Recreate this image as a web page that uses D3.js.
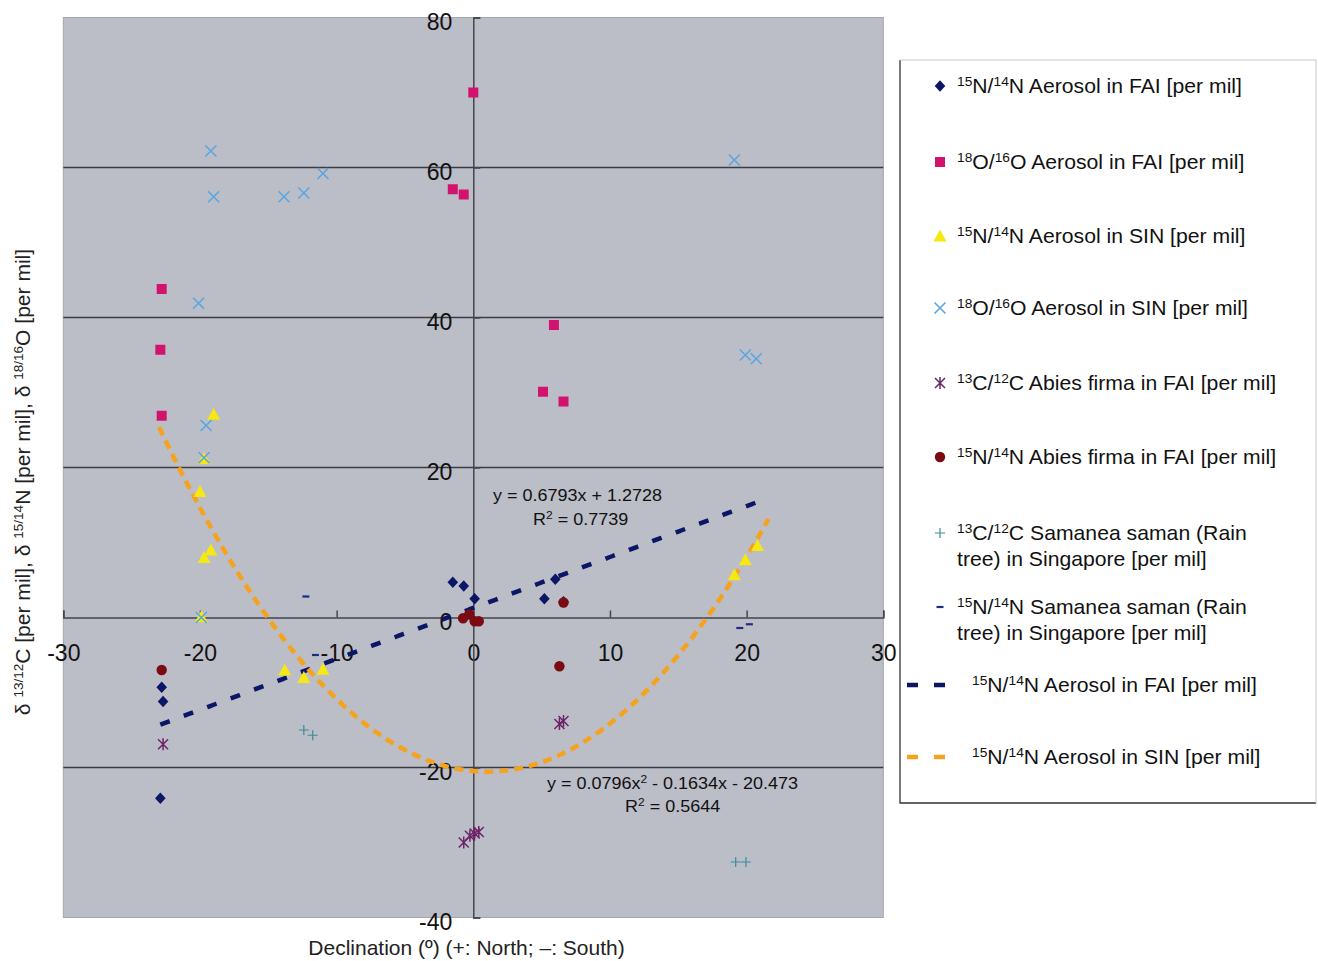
<!DOCTYPE html>
<html>
<head>
<meta charset="utf-8">
<script src="https://cdn.jsdelivr.net/npm/d3@7"></script>
<style>
  body { margin: 0; background: #fff; }
  svg { display: block; font-family: "Liberation Sans", Arial, Helvetica, sans-serif; }
  text { white-space: pre; }
</style>
</head>
<body>
<svg id="chart" width="1318" height="961"></svg>
<script>
// values: [declination, delta]
var aerosolN_FAI = [[-22.8, -9.3], [-22.7, -11.2], [-22.9, -24.1], [-1.5, 4.7], [-0.7, 4.2],
                    [0.1, 2.5], [5.2, 2.5], [6.0, 5.1], [6.6, 2.1]];
var aerosolO_FAI = [[-22.8, 43.8], [-22.9, 35.7], [-22.8, 26.9], [0.0, 70.0], [-1.5, 57.1],
                    [-0.7, 56.4], [5.9, 39.0], [5.1, 30.1], [6.6, 28.8]];
var aerosolN_SIN = [[-19.0, 27.1], [-19.7, 21.2], [-20.0, 16.8], [-19.2, 9.0], [-19.7, 8.0],
                    [-19.9, 0.1], [-13.8, -7.0], [-12.4, -8.0], [-11.0, -6.9], [19.1, 5.7],
                    [19.9, 7.7], [20.8, 9.6]];
var aerosolO_SIN = [[-19.2, 62.2], [-19.0, 56.1], [-13.85, 56.1], [-12.4, 56.6], [-11.0, 59.2],
                    [-20.1, 41.9], [-19.55, 25.6], [-19.7, 21.3], [-19.9, 0.0], [19.1, 61.0],
                    [19.9, 35.0], [20.7, 34.5]];
var abiesC_FAI = [[-22.7, -16.9], [6.3, -14.2], [6.6, -13.8], [-0.7, -30.0], [-0.25, -29.1],
                  [0.1, -28.8], [0.4, -28.6]];
var abiesN_FAI = [[-22.8, -7.0], [-0.75, -0.1], [-0.3, 0.4], [0.1, -0.5], [0.4, -0.5],
                  [6.6, 2.0], [6.3, -6.5]];
var samaneaC_SIN = [[-12.4, -15.0], [-11.75, -15.7], [19.2, -32.6], [19.95, -32.6]];
var samaneaN_SIN = [[-12.25, 2.8], [-11.55, -5.0], [19.5, -1.4], [20.2, -0.9]];

// fitted trendlines as printed on the chart
var linearFit = [0.6793, 1.2728];            // slope, intercept
var linearSpan = [-22.9, 20.7];
var quadFit = [0.0796, -0.1634, -20.473];     // a, b, c
var quadSpan = [-23.0, 21.6];

var xTicks = [-30, -20, -10, 0, 10, 20, 30];
var yTicks = [-40, -20, 0, 20, 40, 60, 80];
var gridValues = [-20, 20, 40, 60];

var seriesNames = [
    "{15}N/{14}N Aerosol in FAI [per mil]",
    "{18}O/{16}O Aerosol in FAI [per mil]",
    "{15}N/{14}N Aerosol in SIN [per mil]",
    "{18}O/{16}O Aerosol in SIN [per mil]",
    "{13}C/{12}C Abies firma in FAI [per mil]",
    "{15}N/{14}N Abies firma in FAI [per mil]",
    "{13}C/{12}C Samanea saman (Rain|tree) in Singapore [per mil]",
    "{15}N/{14}N Samanea saman (Rain|tree) in Singapore [per mil]"
];
var trendNames = [
    "{15}N/{14}N Aerosol in FAI [per mil]",
    "{15}N/{14}N Aerosol in SIN [per mil]"
];

var svg = d3.select("#chart");

var x = d3.scaleLinear().domain([-30, 30]).range([63.3, 883.3]);
var y = d3.scaleLinear().domain([-40, 80]).range([917.5, 17.5]);

// marker shapes, centred on 0,0
var markers = {
    diamond: function(g, c) {
        g.append("path").attr("d", "M0,-5.8L5.3,0L0,5.8L-5.3,0Z").attr("fill", c);
    },
    square: function(g, c) {
        g.append("path").attr("d", d3.symbol(d3.symbolSquare, 100)()).attr("fill", c);
    },
    triangle: function(g, c) {
        g.append("path").attr("d", "M0,-6.5L6.5,5.5L-6.5,5.5Z").attr("fill", c);
    },
    cross: function(g, c) {
        g.append("path").attr("d", "M-5.5,-5.5L5.5,5.5M-5.5,5.5L5.5,-5.5")
            .attr("stroke", c).attr("stroke-width", 1.6).attr("fill", "none");
    },
    star: function(g, c) {
        g.append("path").attr("d", "M-5,-5L5,5M-5,5L5,-5M0,-6V6")
            .attr("stroke", c).attr("stroke-width", 1.5).attr("fill", "none");
    },
    circle: function(g, c) {
        g.append("circle").attr("r", 5.2).attr("fill", c);
    },
    plus: function(g, c) {
        g.append("path").attr("d", "M-5,0H5M0,-5V5")
            .attr("stroke", c).attr("stroke-width", 1.2).attr("fill", "none");
    },
    dash: function(g, c) {
        g.append("path").attr("d", "M-3.5,0H3.5")
            .attr("stroke", c).attr("stroke-width", 2.2).attr("fill", "none");
    }
};

var series = [
    {data: aerosolN_FAI, mark: "diamond", color: "#0b1766"},
    {data: aerosolO_FAI, mark: "square", color: "#d3126f"},
    {data: aerosolN_SIN, mark: "triangle", color: "#f6e812"},
    {data: aerosolO_SIN, mark: "cross", color: "#5aa6e2"},
    {data: abiesC_FAI, mark: "star", color: "#6d2468"},
    {data: abiesN_FAI, mark: "circle", color: "#7a0b12"},
    {data: samaneaC_SIN, mark: "plus", color: "#3c8b9b"},
    {data: samaneaN_SIN, mark: "dash", color: "#1b2d86"}
];
series.forEach(function(s, i) { s.name = seriesNames[i]; });

var trends = [
    {name: trendNames[0], color: "#0b1766", dash: "10,15",
     fn: function(v) { return linearFit[0] * v + linearFit[1]; }, span: linearSpan},
    {name: trendNames[1], color: "#f5a31f", dash: "9,6",
     fn: function(v) { return quadFit[0] * v * v + quadFit[1] * v + quadFit[2]; }, span: quadSpan}
];

// writes "{15}N/{14}N ..." with the braces as superscripts
var richText = function(sel, str, supSize, shift) {
    var raised = false;
    str.split(/(\{[^}]*\})/).filter(function(p) { return p.length; }).forEach(function(p) {
        var sup = p.charAt(0) === "{";
        var t = sel.append("tspan").text(sup ? p.slice(1, -1) : p);
        if (sup) {
            t.attr("font-size", supSize).attr("dy", raised ? 0 : -shift);
            raised = true;
        } else {
            t.attr("dy", raised ? shift : 0);
            raised = false;
        }
    });
};

// plot area
svg.append("rect")
    .attr("x", x(-30)).attr("y", y(80))
    .attr("width", x(30) - x(-30)).attr("height", y(-40) - y(80))
    .attr("fill", "#bbbdc7").attr("stroke", "#a4a6ae").attr("stroke-width", 1);

svg.append("g").selectAll("line").data(gridValues).join("line")
    .attr("x1", x(-30)).attr("x2", x(30))
    .attr("y1", function(d) { return y(d); }).attr("y2", function(d) { return y(d); })
    .attr("stroke", "#3c3c40").attr("stroke-width", 1.5);

// x axis sits on y = 0, ticks point up, labels well below
var xAxis = svg.append("g")
    .attr("transform", "translate(0," + y(0) + ")")
    .call(d3.axisBottom(x).tickValues(xTicks).tickSize(-7).tickSizeOuter(-7).tickPadding(27)
        .tickFormat(function(d) { return String(d); }));

// y axis sits on x = 0, ticks point right
var yAxis = svg.append("g")
    .attr("transform", "translate(" + x(0) + ",0)")
    .call(d3.axisLeft(y).tickValues(yTicks).tickSize(-7).tickSizeOuter(-7).tickPadding(21)
        .tickFormat(function(d) { return String(d); }));

[xAxis, yAxis].forEach(function(a) {
    a.selectAll("path, line").attr("stroke", "#46464c").attr("stroke-width", 1.5);
    a.selectAll("text").attr("fill", "#111").attr("font-size", 23)
        .attr("font-family", "'Liberation Sans', Arial, sans-serif");
});
yAxis.selectAll("text").attr("dy", "0.5em");

// trendlines
trends.forEach(function(t) {
    var pts = d3.range(t.span[0], t.span[1], 0.1).concat([t.span[1]]);
    svg.append("path")
        .datum(pts)
        .attr("d", d3.line().x(function(v) { return x(v); }).y(function(v) { return y(t.fn(v)); }))
        .attr("fill", "none").attr("stroke", t.color)
        .attr("stroke-width", 4.5).attr("stroke-dasharray", t.dash);
});

// markers
series.forEach(function(s) {
    svg.append("g").selectAll("g").data(s.data).join("g")
        .attr("transform", function(d) { return "translate(" + x(d[0]) + "," + y(d[1]) + ")"; })
        .each(function() { markers[s.mark](d3.select(this), s.color); });
});

// trendline equations
var eqLabels = [
    {text: "y = 0.6793x + 1.2728", x: 493, y: 501},
    {text: "R{2} = 0.7739", x: 533, y: 525},
    {text: "y = 0.0796x{2} - 0.1634x - 20.473", x: 547, y: 789},
    {text: "R{2} = 0.5644", x: 625, y: 812}
];
eqLabels.forEach(function(l) {
    var t = svg.append("text")
        .attr("transform", "translate(" + l.x + "," + l.y + ") scale(1.09,1)")
        .attr("font-size", 16.5).attr("fill", "#111");
    richText(t, l.text, 11, 6);
});

// axis titles
svg.append("text")
    .attr("x", 466.5).attr("y", 955)
    .attr("text-anchor", "middle").attr("font-size", 21).attr("fill", "#222")
    .text("Declination (\u00ba) (+: North; \u2013: South)");

var yTitle = svg.append("text")
    .attr("transform", "translate(30,482) rotate(-90) scale(1.08,1)")
    .attr("text-anchor", "middle").attr("font-size", 19.5).attr("fill", "#222");
richText(yTitle, "\u03b4 {13/12}C [per mil], \u03b4 {15/14}N [per mil], \u03b4 {18/16}O [per mil]", 12.5, 7);

// legend
var legend = svg.append("g");
legend.append("rect").attr("x", 900).attr("y", 60).attr("width", 416).attr("height", 743)
    .attr("fill", "#fff");
legend.append("path").attr("d", "M900,60V803H1316").attr("fill", "none")
    .attr("stroke", "#333").attr("stroke-width", 1.3);
legend.append("path").attr("d", "M900,60H1316V803").attr("fill", "none")
    .attr("stroke", "#c8c8c8").attr("stroke-width", 1);

var rowY = [86, 162, 236, 308, 383, 457, 533, 607];
var trendRowY = [685, 757];

var legendLabel = function(str, lx, ly) {
    str.split("|").forEach(function(line, i) {
        var t = legend.append("text")
            .attr("transform", "translate(" + lx + "," + (ly + 7 + i * 26) + ") scale(1.06,1)")
            .attr("font-size", 20).attr("fill", "#111");
        richText(t, line, 13, 7);
    });
};

series.forEach(function(s, i) {
    var g = legend.append("g").attr("transform", "translate(940," + rowY[i] + ")");
    markers[s.mark](g, s.color);
    legendLabel(s.name, 957, rowY[i]);
});

trends.forEach(function(t, i) {
    legend.append("line")
        .attr("x1", 907).attr("x2", 960)
        .attr("y1", trendRowY[i]).attr("y2", trendRowY[i])
        .attr("stroke", t.color).attr("stroke-width", 4.5).attr("stroke-dasharray", "11,16");
    legendLabel(t.name, 972, trendRowY[i]);
});
</script>
</body>
</html>
